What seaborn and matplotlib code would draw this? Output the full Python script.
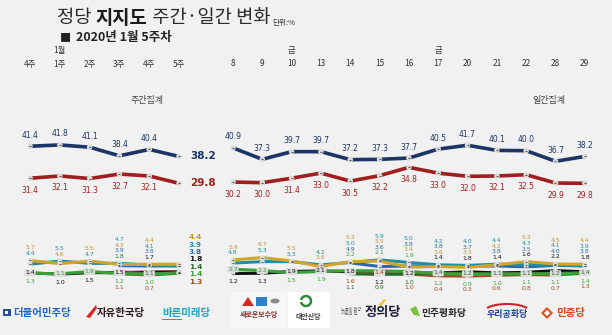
import numpy as np
import pandas as pd
import matplotlib
matplotlib.use("Agg")
import matplotlib.pyplot as plt
import matplotlib.transforms as mtransforms
from matplotlib.patches import Rectangle, Polygon, Circle, Arc
import seaborn as sns

nan = np.nan

# ---------------- data ----------------
weekly_labels = ["4주", "1주", "2주", "3주", "4주", "5주"]
daily_labels = ["8", "9", "10", "13", "14", "15", "16", "17", "20", "21", "22", "28", "29"]

weekly_minju = [41.4, 41.8, 41.1, 38.4, 40.4, 38.2]
weekly_hanguk = [31.4, 32.1, 31.3, 32.7, 32.1, 29.8]
daily_minju = [40.9, 37.3, 39.7, 39.7, 37.2, 37.3, 37.7, 40.5, 41.7, 40.1, 40.0, 36.7, 38.2]
daily_hanguk = [30.2, 30.0, 31.4, 33.0, 30.5, 32.2, 34.8, 33.0, 32.0, 32.1, 32.5, 29.9, 29.8]

weekly_jeongui = [5.7, 4.6, 5.5, 4.3, 4.4, 4.4]
weekly_bareun = [4.4, 5.5, 4.7, 4.7, 4.1, 3.9]
weekly_saebosu = [nan, nan, nan, 3.9, 3.8, 3.8]
weekly_uri = [1.4, 1.0, 1.5, 1.5, 1.7, 1.8]
weekly_daean = [nan, nan, nan, 1.8, 1.1, 1.4]
weekly_pyeonghwa = [1.3, 1.1, 1.9, 1.2, 1.0, 1.4]
weekly_minjung = [nan, nan, nan, 1.1, 0.7, 1.3]

daily_jeongui = [5.9, 6.7, 5.5, 3.6, 5.3, 5.5, 3.4, 3.6, 3.3, 4.2, 5.3, 4.5, 4.4]
daily_bareun = [4.8, 5.3, 5.3, 4.2, 5.0, 5.9, 5.0, 4.2, 4.0, 4.4, 4.3, 4.1, 3.9]
daily_saebosu = [nan, nan, nan, nan, 4.9, 3.6, 3.8, 3.8, 3.7, 3.8, 3.5, 4.0, 3.8]
daily_uri = [1.2, 1.3, 1.9, 2.1, 1.8, 1.2, 1.2, 1.4, 1.8, 1.4, 1.6, 2.2, 1.8]
daily_daean = [nan, nan, nan, nan, 1.1, 0.9, 1.0, 1.4, 1.2, 1.1, 1.1, 1.2, 1.4]
daily_pyeonghwa = [2.7, 2.2, 1.5, 1.9, 2.2, 2.1, 1.9, 1.2, 0.9, 1.0, 1.1, 1.1, 1.4]
daily_minjung = [nan, nan, nan, nan, 1.6, 1.4, 1.0, 0.4, 0.3, 0.6, 0.8, 0.7, 1.3]

# ---------------- style ----------------
sns.set_style("white")
plt.rcParams["font.family"] = ["Noto Sans CJK KR", "DejaVu Sans"]

W, H = 612, 335
BG = "#f1f1f1"
line_col = {
    "민주당": "#1b3566", "한국당": "#a01e1e",
    "정의당": "#d2a42e", "바른미래당": "#1f8ea3", "새로운보수당": "#2f6aa6",
    "우리공화당": "#111111", "대안신당": "#2a6a2c", "민주평화당": "#3aa03a",
    "민중당": "#a4481a",
}
txt_col = dict(line_col)
txt_col["정의당"] = "#c4942a"

small_order = ["우리공화당", "민중당", "대안신당", "민주평화당", "새로운보수당", "바른미래당", "정의당"]
weekly_small = {"정의당": weekly_jeongui, "바른미래당": weekly_bareun, "새로운보수당": weekly_saebosu,
                "우리공화당": weekly_uri, "대안신당": weekly_daean, "민주평화당": weekly_pyeonghwa,
                "민중당": weekly_minjung}
daily_small = {"정의당": daily_jeongui, "바른미래당": daily_bareun, "새로운보수당": daily_saebosu,
               "우리공화당": daily_uri, "대안신당": daily_daean, "민주평화당": daily_pyeonghwa,
               "민중당": daily_minjung}

wx = np.arange(len(weekly_labels), dtype=float)
dx = 6.81 + 0.984 * np.arange(len(daily_labels))

def long_df(d, xs, section):
    rows = []
    for name, vals in d.items():
        for x, v in zip(xs, vals):
            if not np.isnan(v):
                rows.append({"party": name, "x": x, "v": v, "section": section})
    return pd.DataFrame(rows)

big_df = pd.concat([
    long_df({"민주당": weekly_minju, "한국당": weekly_hanguk}, wx, "w"),
    long_df({"민주당": daily_minju, "한국당": daily_hanguk}, dx, "d"),
], ignore_index=True)
small_df = pd.concat([long_df(weekly_small, wx, "w"), long_df(daily_small, dx, "d")], ignore_index=True)

fig = plt.figure(figsize=(W / 100, H / 100), dpi=100, facecolor=BG)
ax_b = fig.add_axes([0, 0, 1, 1])
ax_s = fig.add_axes([0, 0, 1, 1])
for ax in (ax_b, ax_s):
    ax.set_axis_off()
    ax.set_xlim(-1.007, 19.53)
ax_b.set_ylim(-17.6, 87.1)
ax_s.set_ylim(-20.0, 95.5)

sns.lineplot(data=big_df, x="x", y="v", hue="party", units="section", estimator=None,
             palette=line_col, hue_order=["한국당", "민주당"], lw=2.6, legend=False, sort=False, ax=ax_b)
sns.scatterplot(data=big_df, x="x", y="v", s=16, color="#dcdcdc", edgecolor="none", zorder=5, ax=ax_b, legend=False)
sns.scatterplot(data=big_df, x="x", y="v", s=4, marker="_", color="#555555", linewidth=0.8, zorder=6, ax=ax_b, legend=False)

sns.lineplot(data=small_df, x="x", y="v", hue="party", units="section", estimator=None,
             palette=line_col, hue_order=small_order, lw=2.2, legend=False, sort=False, ax=ax_s)
sns.scatterplot(data=small_df, x="x", y="v", s=12, color="#dcdcdc", edgecolor="none", zorder=5, ax=ax_s, legend=False)
sns.scatterplot(data=small_df, x="x", y="v", s=3, marker="_", color="#555555", linewidth=0.7, zorder=6, ax=ax_s, legend=False)

NUMF = ["DejaVu Sans"]

# big party value labels
def big_labels(xs, vals, col, dy, skip_last):
    for i, (x, v) in enumerate(zip(xs, vals)):
        if skip_last and i == len(xs) - 1:
            continue
        ax_b.annotate(f"{v:.1f}", xy=(x, v), xytext=(0, dy), textcoords="offset pixels",
                      ha="center", va="center", fontsize=5.5, color=col, family=NUMF)

big_labels(wx, weekly_minju, line_col["민주당"], 11, True)
big_labels(wx, weekly_hanguk, line_col["한국당"], -12, True)
big_labels(dx, daily_minju, line_col["민주당"], 11, False)
big_labels(dx, daily_hanguk, line_col["한국당"], -12, False)

ax_b.annotate(f"{weekly_minju[-1]:.1f}", xy=(wx[-1], weekly_minju[-1]), xytext=(11, 0), textcoords="offset pixels",
              ha="left", va="center", fontsize=7.5, fontweight="bold", color=line_col["민주당"], family=NUMF)
ax_b.annotate(f"{weekly_hanguk[-1]:.1f}", xy=(wx[-1], weekly_hanguk[-1]), xytext=(11, 0), textcoords="offset pixels",
              ha="left", va="center", fontsize=7.5, fontweight="bold", color=line_col["한국당"], family=NUMF)

# small party value labels
STEP = 5.6
def small_labels(xs, d, skip_last):
    for i, x in enumerate(xs):
        if skip_last and i == len(xs) - 1:
            continue
        items = [(vals[i], name) for name, vals in d.items() if not np.isnan(vals[i])]
        items.sort(key=lambda t: -t[0])
        n = len(items)
        if n <= 4:
            n_above, n_below = n - 2, 1
        else:
            n_above, n_below = n - 3, 2
        above = items[:n_above]
        mid = items[n_above:n - n_below]
        below = items[n - n_below:]
        top_v, bot_v = items[0][0], items[-1][0]
        for k, (v, name) in enumerate(reversed(above)):
            ax_s.annotate(f"{v:.1f}", xy=(x, top_v), xytext=(0, 7 + STEP * k), textcoords="offset pixels",
                          ha="center", va="center", fontsize=4.4, color=txt_col[name], family=NUMF, zorder=8)
        for v, name in mid:
            ax_s.annotate(f"{v:.1f}", xy=(x, v), xytext=(0, 0), textcoords="offset pixels",
                          ha="center", va="center", fontsize=4.4, color=txt_col[name], family=NUMF, zorder=8,
                          bbox=dict(boxstyle="round,pad=0.12", fc="#dddddd", ec="none"))
        for k, (v, name) in enumerate(below):
            ax_s.annotate(f"{v:.1f}", xy=(x, bot_v), xytext=(0, -8 - STEP * k), textcoords="offset pixels",
                          ha="center", va="center", fontsize=4.4, color=txt_col[name], family=NUMF, zorder=8)

small_labels(wx, weekly_small, True)
small_labels(dx, daily_small, False)

# end labels of weekly section
last = sorted([(vals[-1], name) for name, vals in weekly_small.items()], key=lambda t: -t[0])
top_last = last[0][0]
for k, (v, name) in enumerate(last):
    ax_s.annotate(f"{v:.1f}", xy=(wx[-1], top_last), xytext=(10, 27 - 7.4 * k), textcoords="offset pixels",
                  ha="left", va="center", fontsize=5.3, fontweight="bold", color=txt_col[name], family=NUMF)

# x labels at top
tr = mtransforms.blended_transform_factory(ax_b.transData, fig.transFigure)
def fy(py):
    return 1 - py / H
for x, lab in zip(wx, weekly_labels):
    ax_b.text(x, fy(64), lab, transform=tr, ha="center", va="center", fontsize=6, color="#333333")
for x, lab in zip(dx, daily_labels):
    ax_b.text(x, fy(64), lab, transform=tr, ha="center", va="center", fontsize=6, color="#333333")
ax_b.text(wx[1], fy(51), "1월", transform=tr, ha="center", va="center", fontsize=6, color="#333333")
ax_b.text(dx[2], fy(51), "금", transform=tr, ha="center", va="center", fontsize=6, color="#333333")
ax_b.text(dx[7], fy(51), "금", transform=tr, ha="center", va="center", fontsize=6, color="#333333")

def ftext(px, py, s, **kw):
    return fig.text(px / W, 1 - py / H, s, **kw)

ftext(147, 100, "주간집계", ha="center", va="center", fontsize=6.5, color="#444444")
ftext(549, 100, "일간집계", ha="center", va="center", fontsize=6.5, color="#444444")

# title
t1 = ftext(57, 18, "정당 ", ha="left", va="center", fontsize=13.5, color="#2a2a2a")
t2 = ax_b.annotate("지지도", xy=(1, 0), xycoords=t1, va="bottom", ha="left", fontsize=13.5,
                   fontweight="bold", color="#1a1a1a")
t3 = ax_b.annotate(" 주간·일간 변화", xy=(1, 0), xycoords=t2, va="bottom", ha="left", fontsize=13.5,
                   color="#2a2a2a")
ax_b.annotate("단위:%", xy=(1, 0), xycoords=t3, xytext=(2, 1), textcoords="offset pixels",
              va="bottom", ha="left", fontsize=5.5, color="#333333")
ftext(60, 38, "■", ha="left", va="center", fontsize=8, color="#222222")
ftext(76, 38, "2020년 1월 5주차", ha="left", va="center", fontsize=9, fontweight="bold", color="#222222")

# ---------------- party logos (legend) ----------------
def rect(px, py, w, h, **kw):
    fig.patches.append(Rectangle((px / W, 1 - (py + h) / H), w / W, h / H, transform=fig.transFigure, **kw))

def poly(pts, **kw):
    fig.patches.append(Polygon([(x / W, 1 - y / H) for x, y in pts], closed=True, transform=fig.transFigure, **kw))

rect(3, 309, 8, 7, fc="#24509a", ec="none")
rect(5, 311, 3, 3, fc="white", ec="none")
ftext(13, 313, "더불어민주당", ha="left", va="center", fontsize=7.5, fontweight="bold", color="#1f63c6")

poly([(86, 317), (96, 305), (97, 308), (90, 318)], fc="#d7261e", ec="none")
ftext(97, 313, "자유한국당", ha="left", va="center", fontsize=7.5, fontweight="bold", color="#2a1a1a")

ftext(162, 313, "바른미래당", ha="left", va="center", fontsize=7.5, fontweight="bold", color="#1aa3c4")
rect(162, 319, 20, 0.8, fc="#1aa3c4", ec="none")

rect(231, 292, 56, 36, fc="#f7f7f7", ec="none")
poly([(242, 306), (248, 297), (254, 306)], fc="#d9281f", ec="none")
rect(256, 297, 11, 9, fc="#2f7fc8", ec="none")
fig.patches.append(Circle((275 / W, 1 - 301 / H), 4.5 / W, transform=fig.transFigure, fc="#8c8c8c", ec="none"))
ftext(259, 315, "새로운보수당", ha="center", va="center", fontsize=5, fontweight="bold", color="#8a2a2a")

rect(288, 292, 42, 36, fc="#ffffff", ec="none")
fig.patches.append(Arc((306 / W, 1 - 301 / H), 10 / W, 10 / H, theta1=200, theta2=520,
                       transform=fig.transFigure, color="#2e8b3a", lw=1.8))
ftext(308, 316, "대안신당", ha="center", va="center", fontsize=5, fontweight="bold", color="#333333")

ftext(341, 312, "노동이 희망\n시민의 힘", ha="left", va="center", fontsize=3, color="#555555", linespacing=1.0)
ftext(365, 312, "정의당", ha="left", va="center", fontsize=9.5, fontweight="bold", color="#1c1c3c")
poly([(378, 304), (381, 306), (386, 300), (384, 299), (381, 303)], fc="#f3c318", ec="none")

poly([(410, 309), (416, 306), (420, 316), (414, 315)], fc="#7cbf3a", ec="none")
ftext(421, 313, "민주평화당", ha="left", va="center", fontsize=7, fontweight="bold", color="#2a2a2a")

fig.patches.append(Arc((507 / W, 1 - 312 / H), 46 / W, 16 / H, theta1=20, theta2=160,
                       transform=fig.transFigure, color="#c9252c", lw=1.5))
ftext(507, 315, "우리공화당", ha="center", va="center", fontsize=6.5, fontweight="bold", color="#1f3f8f")

poly([(547, 307), (553, 313), (547, 319), (541, 313)], fc="#e0521f", ec="none")
poly([(547, 310), (550, 313), (547, 316), (544, 313)], fc="#ffffff", ec="none")
ftext(556, 313, "민중당", ha="left", va="center", fontsize=7.5, fontweight="bold", color="#d6461c")

fig.savefig("out.png", dpi=100, facecolor=BG)
